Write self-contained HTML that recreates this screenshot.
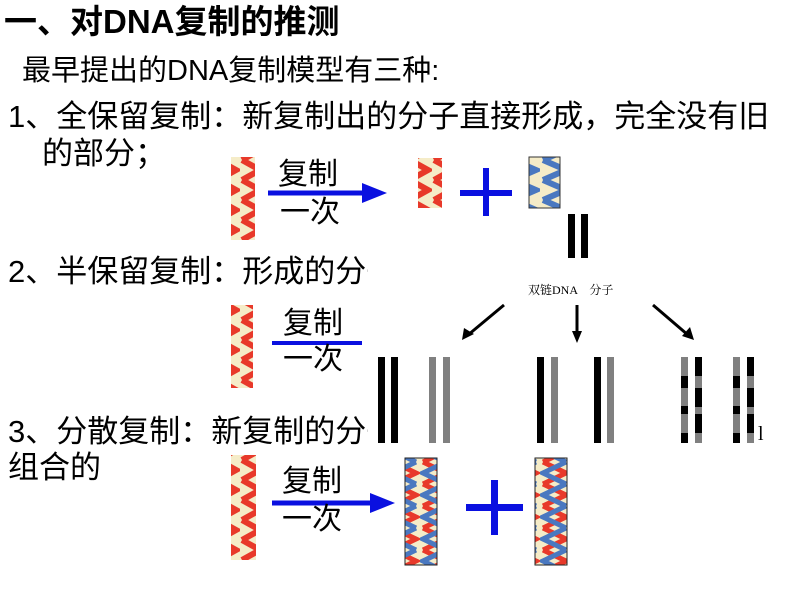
<!DOCTYPE html>
<html><head><meta charset="utf-8"><style>
body{margin:0;width:794px;height:596px;background:#fff;position:relative;overflow:hidden;font-family:"Liberation Sans","Noto Sans CJK SC",sans-serif;}
.t{position:absolute;white-space:nowrap;color:#000;line-height:1;}
svg{position:absolute;left:0;top:0}
</style></head><body>
<div class="t" style="left:4px;top:5px;font-size:33px;font-weight:bold">一、对DNA复制的推测</div>
<div class="t" style="left:22px;top:57px;font-size:29px">最早提出的DNA复制模型有三种:</div>
<div class="t" style="left:8px;top:101px;font-size:31px">1、全保留复制：新复制出的分子直接形成，完全没有旧</div>
<div class="t" style="left:42px;top:138px;font-size:31px">的部分；</div>
<div class="t" style="left:8px;top:256px;font-size:31px">2、半保留复制：形成的分子</div>
<div class="t" style="left:8px;top:416px;font-size:31px">3、分散复制：新复制的分子</div>
<div class="t" style="left:8px;top:452px;font-size:31px">组合的</div>
<svg width="794" height="596" viewBox="0 0 794 596">
<defs>
<pattern id="r" width="24" height="20" patternUnits="userSpaceOnUse"><rect width="24" height="20" fill="#f5ecc8"/><polyline points="2,0 20,10 2,20" fill="none" stroke="#e8392a" stroke-width="6"/></pattern>
<pattern id="b" width="30" height="20" patternUnits="userSpaceOnUse"><rect width="30" height="20" fill="#f5ecc8"/><polyline points="3,0 26,10 3,20" fill="none" stroke="#4a78c0" stroke-width="6"/></pattern>
<pattern id="h" width="30" height="22" patternUnits="userSpaceOnUse"><rect width="30" height="22" fill="#f5ecc8"/><polyline points="3,0 26,11 3,22" fill="none" stroke="#e8392a" stroke-width="5"/><polyline points="26,0 3,11 26,22" fill="none" stroke="#4a78c0" stroke-width="5"/></pattern>
</defs>
<rect x="368" y="250" width="426" height="196" fill="#fff"/>
<rect x="231" y="157" width="24" height="83" fill="url(#r)"/>
<line x1="268" y1="193" x2="365" y2="193" stroke="#0a10e0" stroke-width="5"/>
<polygon points="362,183 387,193 362,203" fill="#0a10e0"/>
<rect x="418" y="158" width="24" height="50" fill="url(#r)"/>
<rect x="460" y="190" width="52" height="6" fill="#0a10e0"/><rect x="483" y="168" width="6" height="48" fill="#0a10e0"/>
<rect x="529" y="157" width="31" height="51" fill="url(#b)" stroke="#333" stroke-width="1"/>
<rect x="568" y="214" width="7" height="44" fill="#000"/><rect x="581" y="214" width="7" height="44" fill="#000"/>
<text x="528" y="294" font-family="Liberation Serif,Noto Serif CJK SC,serif" font-size="12">双链DNA　分子</text>
<g stroke="#000" stroke-width="3"><line x1="504" y1="305" x2="468" y2="335"/><line x1="577" y1="305" x2="577" y2="334"/><line x1="653" y1="305" x2="688" y2="335"/></g>
<polygon points="462,340 464,328 474,334" fill="#000"/><polygon points="577,343 572,331 582,331" fill="#000"/><polygon points="694,340 682,336 690,327" fill="#000"/>
<g>
<rect x="378" y="357" width="7" height="86" fill="#000"/><rect x="391" y="357" width="7" height="86" fill="#000"/>
<rect x="429" y="357" width="7" height="86" fill="#808080"/><rect x="443" y="357" width="7" height="86" fill="#808080"/>
<rect x="537" y="357" width="7" height="86" fill="#000"/><rect x="551" y="357" width="7" height="86" fill="#808080"/>
<rect x="594" y="357" width="7" height="86" fill="#000"/><rect x="607" y="357" width="7" height="86" fill="#808080"/>
<rect x="681" y="357" width="7" height="86" fill="#808080"/><rect x="681" y="376" width="7" height="12" fill="#000"/><rect x="681" y="406" width="7" height="8" fill="#000"/><rect x="681" y="433" width="7" height="10" fill="#000"/>
<rect x="695" y="357" width="7" height="86" fill="#000"/><rect x="695" y="376" width="7" height="12" fill="#808080"/><rect x="695" y="407" width="7" height="7" fill="#808080"/><rect x="695" y="433" width="7" height="10" fill="#808080"/>
<rect x="733" y="357" width="7" height="86" fill="#808080"/><rect x="733" y="376" width="7" height="12" fill="#000"/><rect x="733" y="406" width="7" height="8" fill="#000"/><rect x="733" y="433" width="7" height="10" fill="#000"/>
<rect x="747" y="357" width="7" height="86" fill="#000"/><rect x="747" y="376" width="7" height="12" fill="#808080"/><rect x="747" y="407" width="7" height="7" fill="#808080"/><rect x="747" y="433" width="7" height="10" fill="#808080"/>
</g>
<text x="758" y="440" font-family="Liberation Serif,serif" font-size="20">l</text>
<rect x="231" y="305" width="22" height="83" fill="url(#r)"/>
<line x1="272" y1="343" x2="362" y2="343" stroke="#0a10e0" stroke-width="4"/>
<rect x="231" y="455" width="25" height="105" fill="url(#r)"/>
<line x1="272" y1="503" x2="373" y2="503" stroke="#0a10e0" stroke-width="5"/>
<polygon points="370,493 395,503 370,513" fill="#0a10e0"/>
<rect x="405" y="458" width="32" height="107" fill="url(#h)" stroke="#222" stroke-width="1"/>
<rect x="466" y="504" width="57" height="7" fill="#0a10e0"/><rect x="491" y="480" width="7" height="55" fill="#0a10e0"/>
<rect x="535" y="458" width="32" height="107" fill="url(#h)" stroke="#222" stroke-width="1"/>
</svg>
<div class="t" style="left:278px;top:160px;font-size:30px">复制</div>
<div class="t" style="left:280px;top:198px;font-size:30px">一次</div>
<div class="t" style="left:283px;top:309px;font-size:30px">复制</div>
<div class="t" style="left:283px;top:345px;font-size:30px">一次</div>
<div class="t" style="left:282px;top:467px;font-size:30px">复制</div>
<div class="t" style="left:282px;top:505px;font-size:30px">一次</div>
</body></html>
